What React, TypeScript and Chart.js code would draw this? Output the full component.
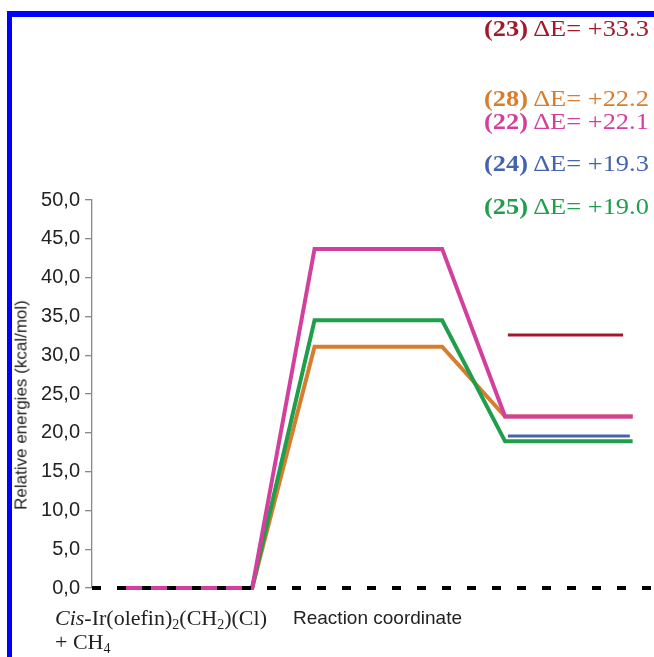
import React, { useEffect, useRef } from "react";
import { Chart, registerables } from "chart.js";
Chart.register(...registerables);

// Reaction coordinate stations (arbitrary units along the x axis)
const reactionCoordinate = [0.46, 2.85, 3.96, 6.23, 7.35, 9.62];
// Relative energies (kcal/mol) per profile; null = not drawn at that station
const energies22: (number | null)[] = [0, 0, 43.7, 43.7, 22.1, 22.1];
const energies25: (number | null)[] = [null, 0, 34.5, 34.5, 18.9, 18.9];
const energies28: (number | null)[] = [null, 0, 31.1, 31.1, 22.1, 22.1];
// Product-only levels
const product24X = [7.4, 9.57];
const product24E = [19.6, 19.6];
const product23X = [7.4, 9.45];
const product23E = [32.6, 32.6];
// Zero reference line
const baselineX = [0, 10];
const baselineE = [0, 0];
// Annotation texts
const compoundIds = ["23", "28", "22", "24", "25"];
const deltaE = ["+33.3", "+22.2", "+22.1", "+19.3", "+19.0"];
const yAxisTitle = "Relative energies (kcal/mol)";
const xAxisTitle = "Reaction coordinate";

const COLORS: Record<string, string> = {
  "22": "#d23f9c",
  "23": "#a3182b",
  "24": "#4564ae",
  "25": "#1f9e4b",
  "28": "#d77d2e",
};
const ANNOT_TOP = [15, 85, 108, 150, 193];

function zip(xs: number[], ys: (number | null)[]) {
  const out: { x: number; y: number }[] = [];
  xs.forEach((x, i) => {
    const y = ys[i];
    if (y !== null && y !== undefined) out.push({ x, y });
  });
  return out;
}

export default function App() {
  const ref = useRef<HTMLCanvasElement | null>(null);
  useEffect(() => {
    if (!ref.current) return;
    const line = (data: any, color: string, width: number, extra: any = {}) => ({
      data,
      borderColor: color,
      backgroundColor: color,
      borderWidth: width,
      pointRadius: 0,
      tension: 0,
      fill: false,
      clip: 6,
      ...extra,
    });
    const chart = new Chart(ref.current, {
      type: "line",
      data: {
        datasets: [
          line(zip(baselineX, baselineE), "#000000", 4, { borderDash: [9, 16], borderCapStyle: "butt" }),
          line(zip(reactionCoordinate, energies22), COLORS["22"], 4),
          line(zip(reactionCoordinate, energies25), COLORS["25"], 4),
          line(zip(product24X, product24E), COLORS["24"], 3),
          line(zip(product23X, product23E), COLORS["23"], 3),
          line(zip(reactionCoordinate, energies28), COLORS["28"], 4),
        ] as any,
      },
      options: {
        responsive: false,
        animation: false,
        events: [],
        layout: { padding: { left: 0, right: 0, top: 200, bottom: 69 } },
        plugins: { legend: { display: false }, tooltip: { enabled: false }, title: { display: false } },
        scales: {
          x: { type: "linear", min: 0, max: 10, display: false },
          y: {
            type: "linear",
            min: 0,
            max: 50,
            ticks: {
              stepSize: 5,
              padding: 5,
              color: "#222",
              font: { family: "'Liberation Sans', Arial, sans-serif", size: 20 },
              callback: (v: any) => Number(v).toFixed(1).replace(".", ","),
            },
            grid: { display: true, drawOnChartArea: false, tickLength: 7, color: "#888", lineWidth: 1.3 },
            border: { display: true, color: "#888", width: 1.3 },
            afterFit: (s: any) => {
              s.width = 92;
            },
          },
        },
      } as any,
    });
    return () => chart.destroy();
  }, []);

  const serif = "'Liberation Serif', 'Times New Roman', serif";
  const sans = "'Liberation Sans', Arial, sans-serif";
  const subStyle: React.CSSProperties = { fontSize: 14, verticalAlign: -4, lineHeight: 0 };
  return (
    <div style={{ position: "fixed", left: 0, top: 0, width: 654, height: 657, background: "#fff", overflow: "hidden" }}>
      <div style={{ position: "absolute", left: 7, top: 11, width: 654, height: 660, borderTop: "6px solid #0000ff", borderLeft: "5px solid #0000ff", boxSizing: "border-box" }} />
      <canvas ref={ref} width={654} height={657} style={{ position: "absolute", left: 0, top: 0 }} />
      <div
        style={{
          position: "absolute",
          left: 21,
          top: 405,
          transform: "translate(-50%, -50%) rotate(-90deg)",
          whiteSpace: "nowrap",
          fontFamily: sans,
          fontSize: 17,
          color: "#222",
          lineHeight: 1,
        }}
      >
        {yAxisTitle}
      </div>
      <div style={{ position: "absolute", left: 293, top: 608, fontFamily: sans, fontSize: 19, color: "#222", lineHeight: 1, whiteSpace: "nowrap" }}>
        {xAxisTitle}
      </div>
      <div style={{ position: "absolute", left: 55, top: 606, fontFamily: serif, fontSize: 22, color: "#222", lineHeight: "24px", whiteSpace: "nowrap" }}>
        <div>
          <i>Cis</i>-Ir(olefin)<sub style={subStyle}>2</sub>(CH<sub style={subStyle}>2</sub>)(Cl)
        </div>
        <div>
          + CH<sub style={subStyle}>4</sub>
        </div>
      </div>
      {compoundIds.map((id, i) => (
        <div
          key={id}
          style={{
            position: "absolute",
            left: 484,
            top: ANNOT_TOP[i],
            fontFamily: serif,
            fontSize: 24,
            lineHeight: "26px",
            color: COLORS[id],
            whiteSpace: "nowrap",
            transform: "scaleX(1.1)",
            transformOrigin: "left center",
          }}
        >
          <b>({id})</b> ΔE= {deltaE[i]}
        </div>
      ))}
    </div>
  );
}
